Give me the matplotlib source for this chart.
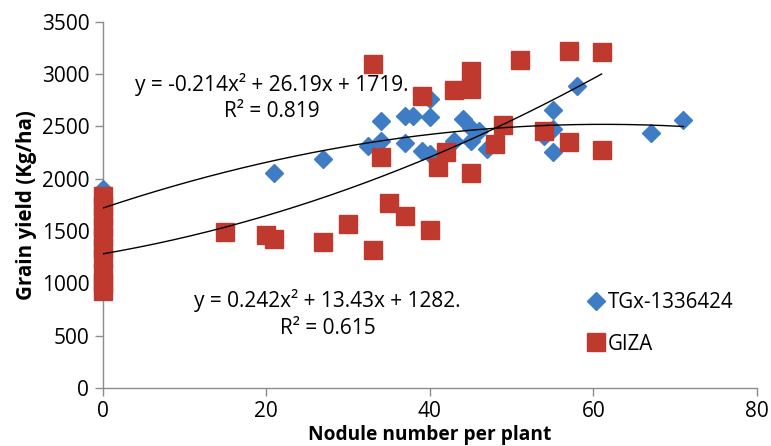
import numpy as np
import matplotlib
matplotlib.use("Agg")
import matplotlib.pyplot as plt

plt.rcParams['font.family'] = ['Open Sans', 'DejaVu Sans']

# TGx-1336424 (blue diamonds)
tgx_x = [0, 0, 21, 27, 32.5, 34, 34, 37, 37, 38, 39, 40, 40, 40, 43, 44, 45, 45, 46, 47, 54, 55, 55, 55, 58, 67, 71]
tgx_y = [1900, 1740, 2060, 2190, 2314, 2362, 2554, 2346, 2596, 2596, 2266, 2234, 2590, 2765,
         2362, 2570, 2490, 2362, 2458, 2282, 2410, 2474, 2656, 2260, 2884, 2442, 2563]

# GIZA (red squares)
giza_x = [0, 0, 0, 0, 0, 0, 0, 0, 0, 0,
          15, 20, 21, 27, 30, 33, 33, 34, 35, 37, 39, 40, 41, 42, 43, 45, 45, 45, 48, 49, 51, 54, 57, 57, 61, 61]
giza_y = [1840, 1740, 1640, 1540, 1440, 1340, 1240, 1100, 1000, 930,
          1493, 1467, 1426, 1400, 1567, 1323, 3094, 2209, 1771, 1643, 2794, 1515, 2115, 2258, 2846,
          2858, 3033, 2059, 2330, 2517, 3139, 2458, 3225, 2347, 3209, 2279]

# Polynomial trendline coefficients (as printed on chart)
tgx_coef = [-0.214, 26.19, 1719]
giza_coef = [0.242, 13.43, 1282]
tgx_eq = "y = -0.214x² + 26.19x + 1719.\nR² = 0.819"
giza_eq = "y = 0.242x² + 13.43x + 1282.\nR² = 0.615"

x_ticks = [0, 20, 40, 60, 80]
y_ticks = [0, 500, 1000, 1500, 2000, 2500, 3000, 3500]

blue = '#3F7CC6'
red = '#C0392F'

fig = plt.figure(figsize=(7.71, 4.46), dpi=100)
ax = fig.add_axes([0.133, 0.130, 0.849, 0.821])

ax.plot(tgx_x, tgx_y, linestyle='none', marker='D', markersize=9.3, color=blue,
        markeredgecolor=blue, label='TGx-1336424', zorder=3, clip_on=False)
ax.plot(giza_x, giza_y, linestyle='none', marker='s', markersize=12.5, color=red,
        markeredgecolor=red, label='GIZA', zorder=4, clip_on=False)

xt = np.linspace(0, max(tgx_x), 200)
ax.plot(xt, np.polyval(tgx_coef, xt), color='black', lw=1.0, zorder=5)
xg = np.linspace(0, max(giza_x), 200)
ax.plot(xg, np.polyval(giza_coef, xg), color='black', lw=1.0, zorder=5)

ax.set_xlim(0, 80)
ax.set_ylim(0, 3500)
ax.set_xticks(x_ticks)
ax.set_yticks(y_ticks)
for s in ['top', 'right']:
    ax.spines[s].set_visible(False)
for s in ['left', 'bottom']:
    ax.spines[s].set_color('#8C8C8C')
    ax.spines[s].set_linewidth(1.0)
ax.tick_params(axis='both', direction='out', length=6, width=1, color='#8C8C8C',
               labelsize=15, labelcolor='black', pad=3.5)
ax.set_xlabel('Nodule number per plant', fontsize=13.8, fontweight='bold', labelpad=2)
ax.set_ylabel('Grain yield (Kg/ha)', fontsize=14.8, fontweight='bold', labelpad=3)

ax.text(20.7, 2776, tgx_eq, ha='center', va='center', fontsize=15, linespacing=1.35,
        multialignment='center')
ax.text(27.5, 710, giza_eq, ha='center', va='center', fontsize=15, linespacing=1.35,
        multialignment='center')

ax.legend(loc='upper left', bbox_to_anchor=(0.741, 0.262), frameon=False, fontsize=14.8,
          handlelength=0.8, handletextpad=0.2, labelspacing=1.0, borderpad=0,
          borderaxespad=0)

fig.savefig('out.png', dpi=100)
